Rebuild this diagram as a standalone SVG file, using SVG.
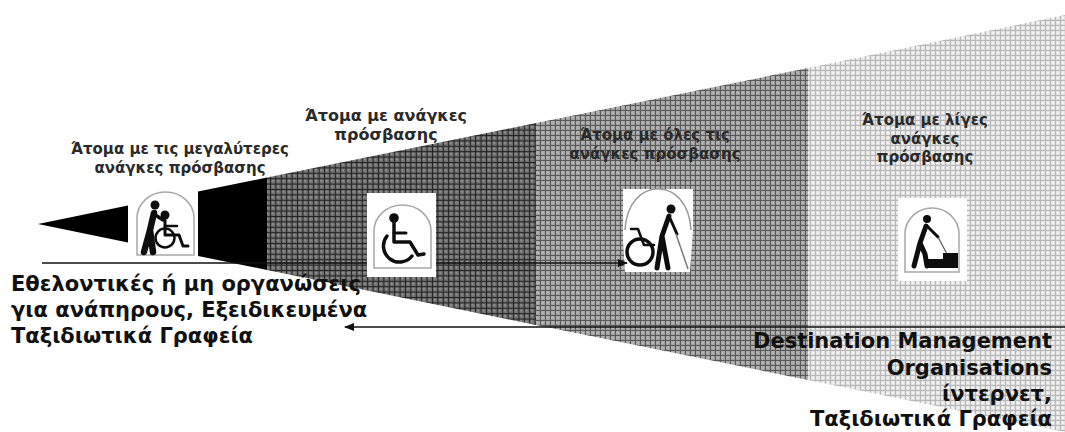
<svg xmlns="http://www.w3.org/2000/svg" width="1065" height="432" viewBox="0 0 1065 432">
<style>
.s{font-family:"DejaVu Sans","Liberation Sans",sans-serif;font-size:15px;font-weight:700;fill:#2a2a2a;text-anchor:middle}
.b{font-family:"DejaVu Sans","Liberation Sans",sans-serif;font-size:21px;font-weight:700;fill:#111}
.r{text-anchor:end}
.f{fill:#111}
.k{fill:none;stroke:#111;stroke-linecap:round;stroke-linejoin:round}
.a{fill:#fff;stroke:#a8a8a8;stroke-width:1.5}
.c{stroke:#111;stroke-width:1.3;fill:none}
</style>
<defs>
<pattern id="p1" width="5.4" height="5.4" patternUnits="userSpaceOnUse"><rect width="5.4" height="5.4" fill="#707070"/><rect x="1.2" y="1.2" width="2.6" height="2.6" fill="#8e8e8e"/><path d="M0 .5H5.4M.5 0V5.4" stroke="#222" stroke-width="1.2"/></pattern>
<pattern id="p2" width="5" height="5" patternUnits="userSpaceOnUse"><rect width="5" height="5" fill="#a0a0a0"/><rect x="1.3" y="1.3" width="2.6" height="2.6" fill="#b4b4b4"/><path d="M0 .5H5M.5 0V5" stroke="#585858" stroke-width="1"/></pattern>
<pattern id="p3" width="5" height="5" patternUnits="userSpaceOnUse"><rect width="5" height="5" fill="#dedede"/><rect x="1.5" y="1.5" width="2.6" height="2.6" fill="#f2f2f2"/><path d="M0 .5H5M.5 0V5" stroke="#b8b8b8" stroke-width="1"/></pattern>
<marker id="ah" markerUnits="userSpaceOnUse" markerWidth="10" markerHeight="8" refX="9" refY="4" orient="auto-start-reverse"><path d="M0 0L10 4L0 8Z" fill="#111"/></marker>
<filter id="soft" x="-5%" y="-5%" width="110%" height="110%"><feGaussianBlur stdDeviation=".5"/></filter>
</defs>
<rect width="1065" height="432" fill="#fff"/>
<g id="wedge">
<polygon points="38,224 128,205.500 128,242.500" fill="#000"/>
<polygon points="198,191.500 267,177.500 267,270 198,256" fill="#000"/>
<polygon points="267,177.500 536,123 536,325 267,270" fill="url(#p1)"/>
<polygon points="536,123 808,68 808,380 536,325" fill="url(#p2)"/>
<polygon points="808,68 1065,15 1065,432 808,380" fill="url(#p3)"/>
</g>
<g id="node-all" filter="url(#soft)">
<path fill="#fff" d="M623 189H693V230L690 272H625L623 240Z"/>
<path fill="none" stroke="#999" stroke-width="1.500" d="M625 230C628 175 688 175 691 230"/>
<circle class="f" cx="671" cy="209" r="4.500"/>
<path class="k" stroke-width="5" d="M669 216L662 236L657 268M662 236L668 268"/>
<path class="k" stroke-width="3" d="M669 216L677 234"/>
<path fill="none" stroke="#777" stroke-width="1.500" d="M676 234L688 269"/>
<circle class="k" stroke-width="3.500" cx="640" cy="252" r="13"/>
<path class="k" stroke-width="2.500" d="M631 229H638L644 245H654"/>
</g>
<g id="connectors">
<path class="c" d="M42 263H627" marker-end="url(#ah)"/>
<path class="c" d="M1065 327H345" marker-end="url(#ah)"/>
</g>
<g id="node-most" filter="url(#soft)">
<path class="a" d="M137 255V218A28.500 26 0 0 1 194 218V255Z"/>
<circle class="f" cx="155" cy="205" r="4.500"/>
<path class="k" stroke-width="6.500" d="M154 213L150 230L144 252M150 230L153 252"/>
<path class="k" stroke-width="3.500" d="M154 214L163 220"/>
<circle class="f" cx="165" cy="215" r="4.500"/>
<path class="k" stroke-width="3" d="M165 220V235H179L183 246H188"/>
<path class="k" stroke-width="2.500" d="M165 226H177"/>
<circle class="k" stroke-width="2.500" cx="165" cy="238" r="9.500"/>
</g>
<g id="node-needs" filter="url(#soft)">
<rect x="367" y="193" width="69" height="84" fill="#fff"/>
<path class="a" d="M374 268V231A28.500 26 0 0 1 431 231V268Z"/>
<circle class="f" cx="394" cy="218" r="4.800"/>
<path class="k" stroke-width="3.500" d="M394 222V242H410L418 255L424 254"/>
<path class="k" stroke-width="3" d="M394 233H406"/>
<path class="k" stroke-width="3.500" d="M387 236A13.500 13.500 0 1 0 412 256"/>
</g>
<g id="node-few" filter="url(#soft)">
<rect x="898" y="198" width="69" height="83" fill="#fff"/>
<path class="a" d="M905 272V234A27 26 0 0 1 959 234V272Z"/>
<circle class="f" cx="927" cy="219" r="4"/>
<path class="k" stroke-width="5" d="M926 226L920 243L925 254L927 266M920 243L914 266"/>
<path class="k" stroke-width="3" d="M927 226L938 237"/>
<path fill="none" stroke="#555" stroke-width="1.200" d="M938 237L947 254"/>
<path class="f" d="M927 268V259H943V253H958V268Z"/>
</g>
<g id="labels">
<text class="s" x="180" y="154">Άτομα με τις μεγαλύτερες</text>
<text class="s" x="180" y="173">ανάγκες πρόσβασης</text>
<text class="s" x="386" y="121" style="font-size:16px">Άτομα με ανάγκες</text>
<text class="s" x="386" y="140" style="font-size:16px">πρόσβασης</text>
<text class="s" x="655" y="140">Άτομα με όλες τις</text>
<text class="s" x="655" y="159">ανάγκες πρόσβασης</text>
<text class="s" x="925" y="125">Άτομα με λίγες</text>
<text class="s" x="925" y="144">ανάγκες</text>
<text class="s" x="925" y="162">πρόσβασης</text>
<text class="b" x="11" y="291">Εθελοντικές ή μη οργανώσεις</text>
<text class="b" x="11" y="317">για ανάπηρους, Εξειδικευμένα</text>
<text class="b" x="11" y="343">Ταξιδιωτικά Γραφεία</text>
<text class="b r" x="1052" y="348">Destination Management</text>
<text class="b r" x="1052" y="375">Organisations</text>
<text class="b r" x="1052" y="401">ίντερνετ,</text>
<text class="b r" x="1052" y="426">Ταξιδιωτικά Γραφεία</text>
</g>
</svg>
